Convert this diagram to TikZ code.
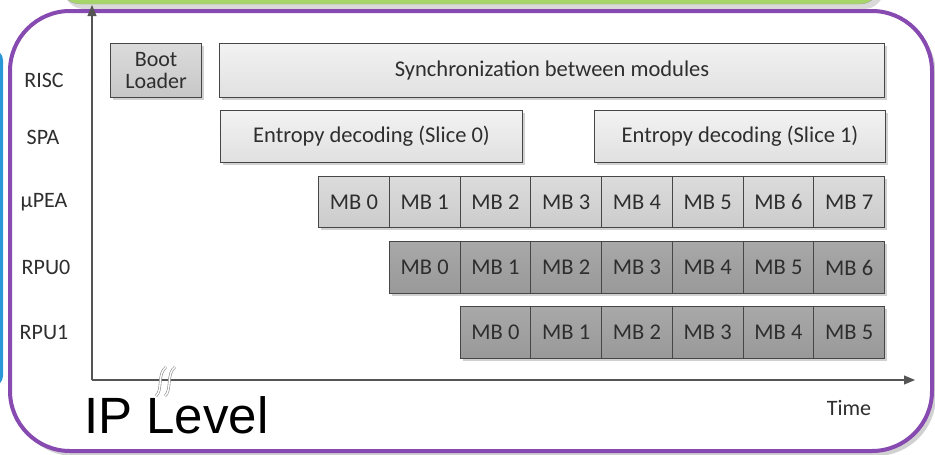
\documentclass[tikz,border=0pt]{standalone}
\usepackage{fontspec}
\setmainfont{Carlito}
\newfontfamily\arialfont{Liberation Sans}
\usetikzlibrary{arrows.meta,shadows}
\definecolor{frpurple}{RGB}{135,74,176}
\definecolor{frgreen}{RGB}{166,213,106}
\definecolor{frblue}{RGB}{40,150,215}
\definecolor{edgegray}{RGB}{70,70,70}
\definecolor{axisgray}{RGB}{85,85,85}
\tikzset{
  basebox/.style={draw=edgegray, line width=1.1pt, inner sep=0pt, anchor=north west,
    font=\fontsize{22.5}{24}\selectfont, text=black!82,
    drop shadow={shadow xshift=2.5pt, shadow yshift=-2.5pt, fill=black!18, opacity=1}},
  lightbox/.style={basebox, top color=white!95!black, bottom color=white!88!black},
  bootbox/.style={basebox, top color=white!86!black, bottom color=white!78!black, align=center, font=\fontsize{22}{25}\selectfont},
  mpeacell/.style={basebox, top color=white!86!black, bottom color=white!80!black, minimum width=70.75pt, minimum height=51pt},
  rpucell/.style={basebox, top color=white!66!black, bottom color=white!60!black, minimum width=70.75pt, minimum height=52pt},
  rowlabel/.style={font=\fontsize{22}{24}\selectfont, text=black!82},
  axisline/.style={draw=axisgray, line width=1.1pt, -{Triangle[length=11pt,width=9pt]}},
}
\begin{document}
\begin{tikzpicture}[x=1pt,y=-1pt]
\useasboundingbox (0,0) rectangle (935,455);
% background frames
\fill[black!15, rounded corners=20pt] (64,-60) rectangle (884,9);
\draw[draw=black!35, fill=frgreen, rounded corners=20pt] (60,-60) rectangle (880,4);
\fill[frblue, rounded corners=10pt] (-30,50) rectangle (3,386);
\fill[black!18, rounded corners=60pt] (14,15) rectangle (936,456);
\draw[draw=frpurple, line width=4pt, fill=white, rounded corners=60pt] (10,11) rectangle (932,451);
% axes
\coordinate (origin) at (92,380);
\coordinate (ytop) at (92,5);
\coordinate (xend) at (915,380);
\draw[axisline] (origin) -- (ytop);
\draw[axisline] (origin) -- (xend);
% axis break
\foreach \dx in {0,9}{
  \draw[draw=black!45, double=white, double distance=1.4pt, line width=0.6pt]
    (156+\dx,396) .. controls (163+\dx,390) and (157+\dx,374) .. (166+\dx,367);
}
% row labels
\node[rowlabel] (lrisc) at (44,80) {RISC};
\node[rowlabel] (lspa) at (43,137) {SPA};
\node[rowlabel] (lpea) at (44,202) {μPEA};
\node[rowlabel] (lrpu0) at (46,267) {RPU0};
\node[rowlabel] (lrpu1) at (44,332) {RPU1};
% RISC row
\node[bootbox, minimum width=91pt, minimum height=54pt] (boot) at (110,43) {Boot\\[-3pt]Loader};
\node[lightbox, minimum width=665pt, minimum height=54pt] (sync) at (219,43) {Synchronization between modules};
% SPA row
\node[lightbox, minimum width=302pt, minimum height=52pt] (ed0) at (220,110) {Entropy decoding (Slice 0)};
\node[lightbox, minimum width=291pt, minimum height=52pt] (ed1) at (594,110) {Entropy decoding (Slice 1)};
% muPEA row
\foreach \i in {0,...,7}{
  \node[mpeacell] (pea\i) at ({318+70.75*\i},176) {MB \i};
}
% RPU0 row
\foreach \i in {0,...,6}{
  \node[rpucell] (ra\i) at ({388.75+70.75*\i},241) {MB \i};
}
% RPU1 row
\foreach \i in {0,...,5}{
  \node[rpucell] (rb\i) at ({459.5+70.75*\i},306) {MB \i};
}
% labels
\node[rowlabel] (time) at (849,408) {Time};
\node[font=\arialfont\fontsize{51}{55}\selectfont, text=black, anchor=base west, inner sep=0pt] (iplevel) at (84,433) {IP Level};
\end{tikzpicture}
\end{document}
